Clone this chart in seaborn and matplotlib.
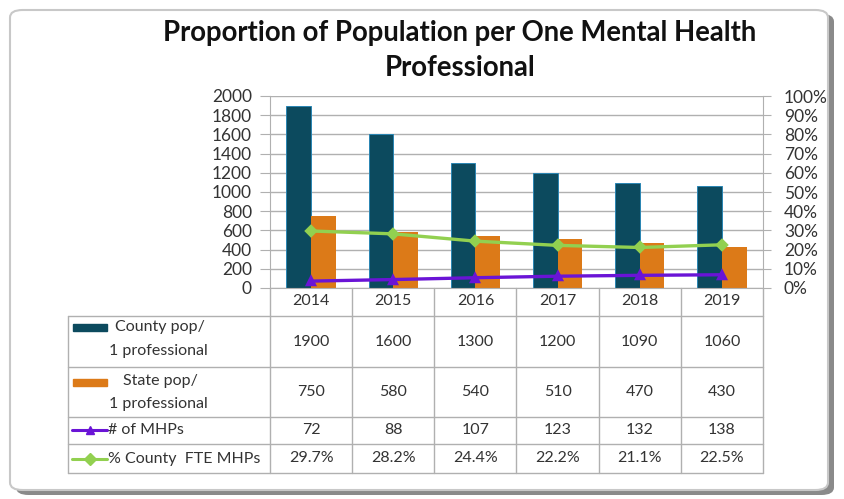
import numpy as np
import pandas as pd
import matplotlib
matplotlib.use("Agg")
import matplotlib.pyplot as plt
from matplotlib.patches import FancyBboxPatch
from matplotlib.lines import Line2D
import seaborn as sns

sns.set_style("white")
plt.rcParams["font.family"] = ["Lato", "DejaVu Sans"]

# data
years = ["2014", "2015", "2016", "2017", "2018", "2019"]
county_pop = [1900, 1600, 1300, 1200, 1090, 1060]
state_pop = [750, 580, 540, 510, 470, 430]
mhp_count = [72, 88, 107, 123, 132, 138]
county_fte_pct = [29.7, 28.2, 24.4, 22.2, 21.1, 22.5]
left_ticks = [0, 200, 400, 600, 800, 1000, 1200, 1400, 1600, 1800, 2000]
right_ticks = [0, 10, 20, 30, 40, 50, 60, 70, 80, 90, 100]

C_COUNTY = "#0C4A5E"
C_STATE = "#DC7A18"
C_MHP = "#6A14D6"
C_FTE = "#92D050"
GRID = "#B0B0B0"
TXT = "#333333"

W, H = 845, 499


def px(x, y):
    # pixel (from top-left) -> figure fraction
    return x / W, 1 - y / H


fig = plt.figure(figsize=(W / 100, H / 100), dpi=100)

# outer frame with shadow (kept behind the axes)
fig.add_artist(FancyBboxPatch(px(16, 495), (834 - 16) / W, (495 - 14) / H,
                              boxstyle="round,pad=0,rounding_size=0.015",
                              transform=fig.transFigure, facecolor="#8a8a8a",
                              edgecolor="none", zorder=-3))
fig.add_artist(FancyBboxPatch(px(10, 490), (828 - 10) / W, (490 - 10) / H,
                              boxstyle="round,pad=0,rounding_size=0.015",
                              transform=fig.transFigure, facecolor="white",
                              edgecolor="#C8C8C8", linewidth=1.5, zorder=-2))

title_font = dict(fontsize=19.8, fontweight="bold", color="#111111", ha="center", va="center")
fig.text(*px(460, 33), "Proportion of Population per One Mental Health", **title_font)
fig.text(*px(460, 68), "Professional", **title_font)

L, R, T, B = 270, 763, 96, 288
ax = fig.add_axes([L / W, 1 - B / H, (R - L) / W, (B - T) / H])
ax.patch.set_visible(False)

df = pd.DataFrame({
    "year": years * 2,
    "value": county_pop + state_pop,
    "series": ["County"] * len(years) + ["State"] * len(years),
})
sns.barplot(data=df, x="year", y="value", hue="series", order=years,
            palette={"County": C_COUNTY, "State": C_STATE}, saturation=1,
            width=0.6, gap=0.0, edgecolor="#2A86B4", linewidth=0.7,
            legend=False, ax=ax, zorder=2)
for p in ax.patches[len(years):]:
    p.set_edgecolor("none")

sns.pointplot(x=years, y=mhp_count, color=C_MHP, markers="^", markersize=6,
              linewidth=2.4, ax=ax, zorder=4)

ax.set_ylim(0, 2000)
ax.set_yticks(left_ticks)
ax.set_xlim(-0.5, len(years) - 0.5)
ax.yaxis.grid(True, color=GRID, linewidth=1)
ax.set_axisbelow(True)
ax.set_xlabel("")
ax.set_ylabel("")
ax.tick_params(axis="y", length=7, color=GRID, labelsize=12.5, labelcolor=TXT, pad=6)
ax.tick_params(axis="x", length=0, labelsize=11.5, labelcolor=TXT, pad=4)
for s in ["top", "right"]:
    ax.spines[s].set_visible(False)
for s in ["left", "bottom"]:
    ax.spines[s].set_color(GRID)

ax2 = ax.twinx()
ax2.patch.set_visible(False)
sns.pointplot(x=years, y=county_fte_pct, color=C_FTE, markers="D", markersize=5,
              linewidth=2.4, ax=ax2, zorder=4)
ax2.set_ylim(0, 100)
ax2.set_yticks(right_ticks)
ax2.set_yticklabels([f"{t}%" for t in right_ticks])
ax2.set_xlim(-0.5, len(years) - 0.5)
ax2.set_ylabel("")
ax2.tick_params(axis="y", length=6, color=GRID, labelsize=12.5, labelcolor=TXT, pad=9)
for s in ["top", "left", "bottom"]:
    ax2.spines[s].set_visible(False)
ax2.spines["right"].set_color(GRID)

# data table underneath
col_w = (R - L) / len(years)
table_left = 68
rows_y = [316, 367, 417, 444, 473]
line_kw = dict(color=GRID, linewidth=1, transform=fig.transFigure)
for y in rows_y:
    x0, y0 = px(table_left, y)
    x1, _ = px(R, y)
    fig.add_artist(Line2D([x0, x1], [y0, y0], **line_kw))
for i in range(len(years) + 1):
    x = L + i * col_w
    fig.add_artist(Line2D([x / W, x / W], [px(0, B)[1], px(0, rows_y[-1])[1]], **line_kw))
fig.add_artist(Line2D([table_left / W] * 2, [px(0, rows_y[0])[1], px(0, rows_y[-1])[1]], **line_kw))

row_values = [
    [str(v) for v in county_pop],
    [str(v) for v in state_pop],
    [str(v) for v in mhp_count],
    [f"{v:.1f}%" for v in county_fte_pct],
]
txt_kw = dict(fontsize=11.5, color=TXT, va="center")
for r, vals in enumerate(row_values):
    yc = (rows_y[r] + rows_y[r + 1]) / 2
    for i, v in enumerate(vals):
        fig.text(*px(L + (i + 0.5) * col_w, yc), v, ha="center", **txt_kw)

# row labels with legend keys
fig.add_artist(plt.Rectangle(px(73, 331), 34 / W, 7 / H, color=C_COUNTY, transform=fig.transFigure))
fig.text(*px(115, 327), "County pop/", **txt_kw)
fig.text(*px(109, 351), "1 professional", **txt_kw)
fig.add_artist(plt.Rectangle(px(73, 386), 34 / W, 7 / H, color=C_STATE, transform=fig.transFigure))
fig.text(*px(123, 381), "State pop/", **txt_kw)
fig.text(*px(109, 404), "1 professional", **txt_kw)
for yk, col, mk in [(430, C_MHP, "^"), (459, C_FTE, "D")]:
    xa, ya = px(72, yk)
    xb, _ = px(107, yk)
    fig.add_artist(Line2D([xa, xb], [ya, ya], color=col, linewidth=2.2,
                          transform=fig.transFigure))
    fig.add_artist(Line2D([(xa + xb) / 2], [ya], color=col, marker=mk, markersize=6,
                          transform=fig.transFigure))
fig.text(*px(108, 430), "# of MHPs", **txt_kw)
fig.text(*px(108, 459), "% County  FTE MHPs", **txt_kw)

fig.savefig("out.png", dpi=100)
